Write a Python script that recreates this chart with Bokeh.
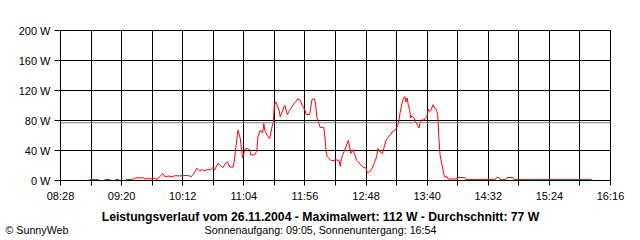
from bokeh.plotting import figure
from bokeh.models import FixedTicker, Span, Label, Range1d
from bokeh.embed import file_html
from bokeh.resources import INLINE

# ---- data ----
times = [
    "08:52", "08:53", "09:00", "09:01", "09:05", "09:06", "09:10", "09:11", "09:14", "09:15",
    "09:17", "09:18", "09:23", "09:24", "09:28", "09:30", "09:32", "09:35", "09:38", "09:40",
    "09:42", "09:45", "09:47", "09:50", "09:53", "09:55", "09:57", "10:00", "10:03", "10:06",
    "10:09", "10:13", "10:17", "10:19", "10:21", "10:24", "10:26", "10:29", "10:30", "10:33",
    "10:36", "10:38", "10:39", "10:42", "10:44", "10:46", "10:48", "10:50", "10:52", "10:55",
    "10:56", "10:58", "10:59", "11:01", "11:02", "11:03", "11:05", "11:07", "11:09", "11:10",
    "11:13", "11:15", "11:16", "11:18", "11:20", "11:21", "11:22", "11:24", "11:26", "11:28",
    "11:29", "11:30", "11:31", "11:32", "11:34", "11:35", "11:37", "11:38", "11:39", "11:41",
    "11:43", "11:45", "11:48", "11:50", "11:52", "11:54", "11:56", "11:57", "12:00", "12:02",
    "12:04", "12:05", "12:06", "12:08", "12:09", "12:12", "12:13", "12:14", "12:15", "12:18",
    "12:21", "12:22", "12:23", "12:25", "12:26", "12:27", "12:28", "12:31", "12:33", "12:34",
    "12:35", "12:37", "12:38", "12:40", "12:42", "12:44", "12:46", "12:48", "12:49", "12:51",
    "12:53", "12:55", "12:57", "12:58", "13:00", "13:02", "13:03", "13:05", "13:07", "13:09",
    "13:11", "13:13", "13:15", "13:16", "13:17", "13:19", "13:20", "13:21", "13:22", "13:23",
    "13:24", "13:25", "13:26", "13:27", "13:29", "13:30", "13:32", "13:33", "13:34", "13:36",
    "13:37", "13:39", "13:40", "13:41", "13:42", "13:43", "13:45", "13:46", "13:48", "13:49",
    "13:50", "13:51", "13:53", "13:54", "13:55", "13:57", "13:58", "14:05", "14:06", "14:12",
    "14:13", "14:38", "14:39", "14:41", "14:42", "14:47", "14:48", "14:53", "14:54", "16:00",
]
watts = [
    0, 1.3, 1.3, 0, 0, 1.3, 1.3, 0, 0, 1.3,
    1.3, 0, 0, 1.3, 1.3, 2, 3.5, 3.5, 3.8, 2,
    3, 2, 3, 1.5, 5.7, 9.3, 5, 6, 5, 6.6,
    6, 6.6, 6.6, 5, 8, 16.4, 13, 14.5, 13, 14.5,
    14.5, 18, 13.7, 23, 20, 17, 22, 25, 18, 18,
    28, 54.6, 67, 56, 41, 30, 42, 42.6, 41, 34,
    34, 39, 58, 67, 63.5, 76, 66, 60, 56, 71.5,
    78, 100, 105, 101.7, 93.7, 85, 92.8, 98, 100, 88,
    93.7, 99, 105, 109, 107, 99, 94, 88, 88, 108,
    109, 103.5, 85, 76, 70.6, 70.6, 58, 38, 32, 27,
    26.5, 29, 27, 27, 19, 29, 33.7, 45, 53.7, 45,
    36, 41, 36, 27, 23.5, 20.4, 17, 17, 10.6, 11.5,
    16, 23.5, 31.5, 42.6, 38, 36, 42.6, 53.7, 58, 61.7,
    66, 67.5, 73.7, 80, 91, 105.7, 110, 112, 104.8, 110,
    100, 95, 83.5, 86, 82.6, 78, 73.7, 70, 77, 81.7,
    80, 84, 86, 95, 92.4, 93, 101, 98, 93.7, 87,
    56, 33.7, 18, 9.3, 4.8, 4.8, 2, 2, 4, 4,
    1.5, 1.5, 4, 4, 1.5, 1.5, 4, 4, 1.5, 1.5,
]
x_tick_labels = ["08:28", "09:20", "10:12", "11:04", "11:56",
                 "12:48", "13:40", "14:32", "15:24", "16:16"]
y_ticks = [0, 40, 80, 120, 160, 200]
y_tick_labels = ["0 W", "40 W", "80 W", "120 W", "160 W", "200 W"]
average_w = 77
title_text = "Leistungsverlauf vom 26.11.2004 - Maximalwert: 112 W - Durchschnitt: 77 W"
sun_text = "Sonnenaufgang: 09:05, Sonnenuntergang: 16:54"
credit_text = "\u00a9 SunnyWeb"

assert len(times) == len(watts)


def to_min(s):
    h, m = s.split(":")
    return int(h) * 60 + int(m)


xs = [to_min(t) for t in times]
label_mins = [to_min(t) for t in x_tick_labels]
start, end = label_mins[0], label_mins[-1]
step = (label_mins[1] - label_mins[0]) // 2
grid_ticks = list(range(start, end + 1, step))
overrides = {}
for t in grid_ticks:
    overrides[t] = ""
for t, lab in zip(label_mins, x_tick_labels):
    overrides[t] = lab

FONT = "Liberation Sans"
W, H = 640, 240
BL, BR, BT, BB = 60, 30, 30, 60

p = figure(width=W, height=H, output_backend="svg", toolbar_location=None,
           x_range=Range1d(start, end), y_range=Range1d(0, 200),
           min_border_left=BL, min_border_right=BR, min_border_top=BT,
           min_border_bottom=BB)
p.background_fill_color = "white"
p.border_fill_color = "white"
p.outline_line_color = "black"
p.outline_line_width = 1

# grid
p.xgrid.ticker = FixedTicker(ticks=grid_ticks)
p.ygrid.ticker = FixedTicker(ticks=y_ticks)
for g in (p.xgrid, p.ygrid):
    g.grid_line_color = "black"
    g.grid_line_alpha = 1.0
    g.grid_line_width = 1

# axes
p.xaxis.ticker = FixedTicker(ticks=grid_ticks)
p.xaxis.major_label_overrides = overrides
p.yaxis.ticker = FixedTicker(ticks=y_ticks)
p.yaxis.major_label_overrides = {v: l for v, l in zip(y_ticks, y_tick_labels)}
for ax in (p.xaxis, p.yaxis):
    ax.axis_line_color = "black"
    ax.major_tick_line_color = "black"
    ax.minor_tick_line_color = None
    ax.major_tick_in = 0
    ax.major_label_text_font = FONT
    ax.major_label_text_font_size = "11px"
    ax.major_label_text_color = "black"
p.xaxis.major_tick_out = 5
p.xaxis.major_label_standoff = 4
p.yaxis.major_tick_out = 6
p.yaxis.major_label_standoff = 4

# average line
p.add_layout(Span(location=average_w, dimension="width",
                  line_color="#808080", line_width=1))

# power curve
p.line(xs, watts, line_color="#ff0000", line_width=1)

# texts below the chart (canvas pixel positions, kept in side panels so
# they are not clipped to the plot frame)
p.add_layout(Label(x=320, y=216, x_units="canvas", y_units="canvas",
                   text=title_text, text_font=FONT, text_font_size="12.2px",
                   text_font_style="bold", text_align="center",
                   text_baseline="middle", text_color="black"), "below")
p.add_layout(Label(x=320, y=229.5, x_units="canvas", y_units="canvas",
                   text=sun_text, text_font=FONT, text_font_size="10.7px",
                   text_align="center", text_baseline="middle",
                   text_color="black"), "below")
p.add_layout(Label(x=5, y=229.5, x_units="canvas", y_units="canvas",
                   text=credit_text, text_font=FONT, text_font_size="10.7px",
                   text_align="left", text_baseline="middle",
                   text_color="black"), "above")

open("out.html", "w").write(file_html(p, INLINE))
